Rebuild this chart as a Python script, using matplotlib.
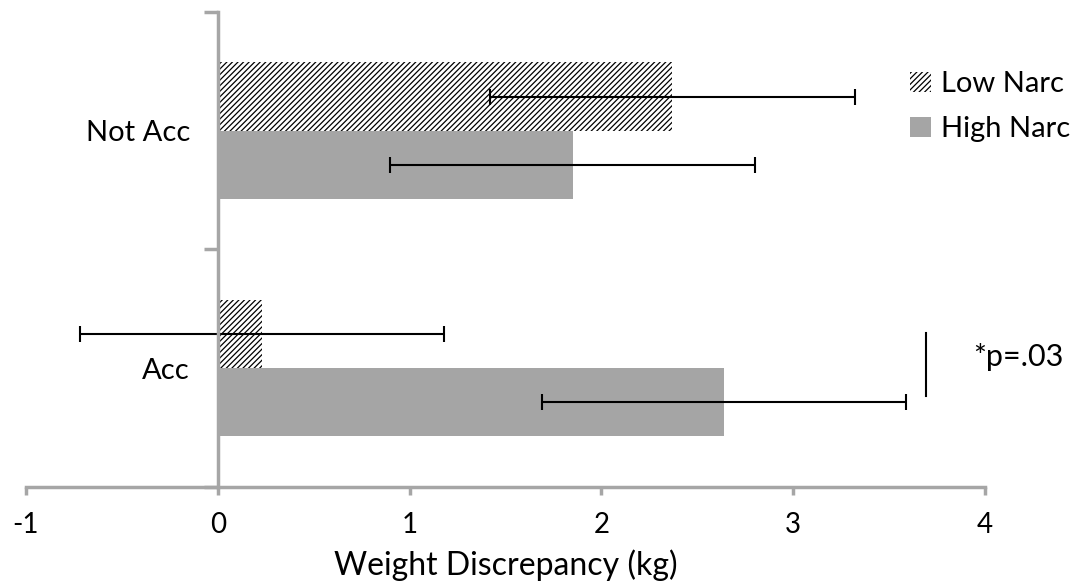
import matplotlib.pyplot as plt
import numpy as np

plt.rcParams['font.family'] = ['Lato', 'DejaVu Sans']
plt.rcParams['hatch.linewidth'] = 0.9

# data
categories = ["Acc", "Not Acc"]
low_narc = [0.23, 2.37]
high_narc = [2.64, 1.85]
low_err = [0.95, 0.95]
high_err = [0.95, 0.95]
x_ticks = [-1, 0, 1, 2, 3, 4]
sig_text = "*p=.03"

axis_gray = "#a6a6a6"
bar_gray = "#a5a5a5"
fs = 20

fig = plt.figure(figsize=(10.83, 5.81), dpi=100)
ax = fig.add_axes([0.024, 0.162, 0.8855, 0.8175])

y = np.arange(len(categories))
h = 0.287

ax.barh(y + h / 2, low_narc, height=h, color="white", edgecolor="black",
        hatch="//////", linewidth=0, label="Low Narc")
ax.barh(y - h / 2, high_narc, height=h, color=bar_gray, linewidth=0,
        label="High Narc")

ax.errorbar(low_narc, y + h / 2, xerr=low_err, fmt="none", ecolor="black",
            elinewidth=1.5, capsize=6, capthick=1.5)
ax.errorbar(high_narc, y - h / 2, xerr=high_err, fmt="none", ecolor="black",
            elinewidth=1.5, capsize=6, capthick=1.5)

# significance marker
ax.plot([3.69, 3.69], [-0.118, 0.147], color="black", linewidth=1.5)
ax.text(3.94, 0.045, sig_text, fontsize=22, va="center", ha="left", clip_on=False)

ax.set_xlim(-1, 4)
ax.set_ylim(-0.5, 1.5)
ax.set_xticks(x_ticks)
ax.set_xticklabels([str(t) for t in x_ticks])

ax.set_yticks([-0.5, 0.5, 1.5])
ax.set_yticklabels([])
ax.set_yticks(y, minor=True)
ax.set_yticklabels(categories, minor=True)
ax.tick_params(axis="y", which="minor", length=0, pad=20, labelsize=21)
ax.tick_params(axis="y", which="major", length=10, width=2.5, color=axis_gray)
ax.tick_params(axis="x", length=6, width=2.5, color=axis_gray, pad=12,
               labelsize=fs)

ax.spines["left"].set_position(("data", 0))
for s in ["top", "right"]:
    ax.spines[s].set_visible(False)
for s in ["left", "bottom"]:
    ax.spines[s].set_color(axis_gray)
    ax.spines[s].set_linewidth(2.5)

ax.set_xlabel("Weight Discrepancy (kg)", fontsize=23, labelpad=8)

ax.legend(loc="upper left", bbox_to_anchor=(0.91, 0.9), frameon=False,
          fontsize=21, handlelength=0.7, handleheight=0.7, handletextpad=0.35,
          labelspacing=0.65, borderaxespad=0)

fig.savefig("out.png", dpi=100)
